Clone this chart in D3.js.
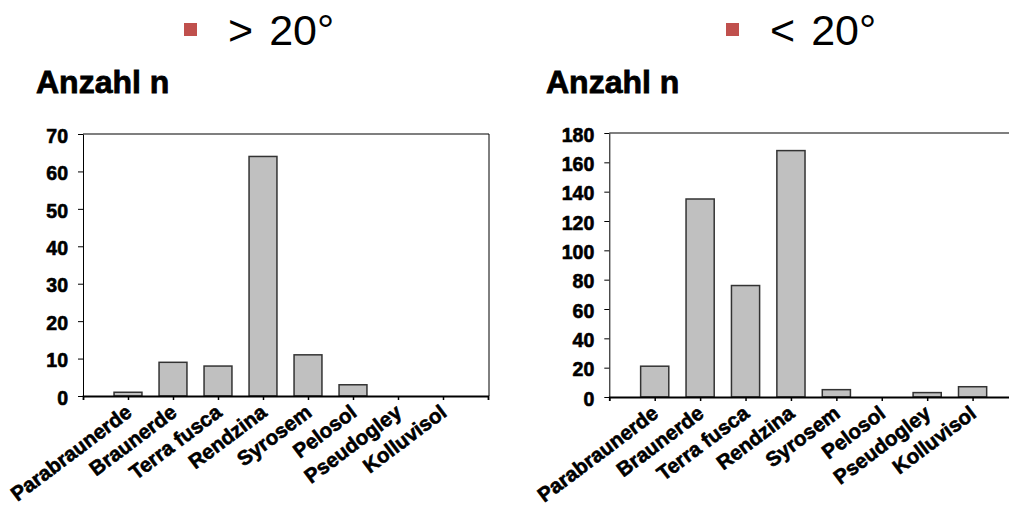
<!DOCTYPE html>
<html>
<head>
<meta charset="utf-8">
<script src="https://cdn.jsdelivr.net/npm/d3@7"></script>
<style>
  html, body { margin: 0; padding: 0; background: #fff; }
  svg { display: block; }
  text { font-family: "Liberation Sans", Arial, sans-serif; }
</style>
</head>
<body>
<svg id="chart" width="1009" height="506"></svg>
<script>
// ---- Data ----
const categories = ["Parabraunerde", "Braunerde", "Terra fusca", "Rendzina", "Syrosem", "Pelosol", "Pseudogley", "Kolluvisol"];
const valuesSteep = [1, 9, 8, 64, 11, 3, 0, 0];       // > 20°
const valuesFlat  = [21, 135, 76, 168, 5, 0, 3, 7];   // < 20°
const ticksSteep = [0, 10, 20, 30, 40, 50, 60, 70];
const ticksFlat  = [0, 20, 40, 60, 80, 100, 120, 140, 160, 180];
const legendLabels = ["> 20°", "< 20°"];
const yTitle = "Anzahl n";

const svg = d3.select("#chart");

function drawPanel(cfg) {
  const g = svg.append("g");
  const x = d3.scalePoint().domain(categories).range([cfg.x0, cfg.x1]).padding(1);
  const y = d3.scaleLinear().domain([0, cfg.max]).range([cfg.yBottom, cfg.yTop]);
  const bw = x.step() * 0.62;

  // legend
  g.append("rect").attr("x", cfg.legX).attr("y", 23).attr("width", 13).attr("height", 13)
    .attr("fill", "#c0504d");
  const parts = cfg.legend.split(" ");
  const lt = g.append("text").attr("x", cfg.legX + 44).attr("y", 45)
    .attr("font-size", 43).attr("fill", "#000");
  lt.append("tspan").text(parts[0]);
  lt.append("tspan").attr("dx", 16).text(parts[1]);

  // title
  g.append("text").attr("x", cfg.titleX).attr("y", 93)
    .attr("font-size", 32).attr("font-weight", "bold")
    .attr("stroke", "#000").attr("stroke-width", 0.8).text(yTitle);

  // frame (top + right)
  g.append("line").attr("x1", cfg.x0).attr("x2", cfg.frameRight)
    .attr("y1", cfg.yTop).attr("y2", cfg.yTop).attr("stroke", "#000").attr("stroke-width", 1.2);
  if (cfg.frameRight < 1009) {
    g.append("line").attr("x1", cfg.frameRight).attr("x2", cfg.frameRight)
      .attr("y1", cfg.yTop).attr("y2", cfg.yBottom).attr("stroke", "#000").attr("stroke-width", 1);
  }

  // bars
  g.selectAll("rect.bar").data(categories.map((c, i) => ({c, v: cfg.values[i]})).filter(d => d.v > 0))
    .enter().append("rect").attr("class", "bar")
    .attr("x", d => x(d.c) - bw / 2)
    .attr("y", d => y(d.v))
    .attr("width", bw)
    .attr("height", d => y(0) - y(d.v))
    .attr("fill", "#c0c0c0")
    .attr("stroke", "#333")
    .attr("stroke-width", 1.5);

  // y axis
  const yAxis = d3.axisLeft(y).tickValues(cfg.ticks).tickSize(5).tickSizeOuter(0).tickPadding(10);
  const ya = g.append("g").attr("transform", `translate(${cfg.x0},0)`).call(yAxis);
  ya.select(".domain").attr("stroke", "#000");
  ya.selectAll(".tick line").attr("stroke", "#000");
  ya.selectAll(".tick text").attr("font-size", 19.5).attr("font-weight", "bold")
    .attr("font-family", "Liberation Sans, Arial, sans-serif").attr("fill", "#000")
    .attr("stroke", "#000").attr("stroke-width", 0.6).attr("dy", "0.42em");

  // x axis
  const xAxis = d3.axisBottom(x).tickSize(4).tickSizeOuter(4).tickFormat("");
  const xa = g.append("g").attr("transform", `translate(0,${cfg.yBottom})`).call(xAxis);
  xa.select(".domain").attr("stroke", "#000").attr("stroke-width", 1.8);
  xa.selectAll(".tick line").attr("stroke", "#000").attr("stroke-width", 1.5);

  // category labels
  g.selectAll("text.cat").data(categories).enter().append("text").attr("class", "cat")
    .attr("transform", d => `translate(${x(d) + 5},${cfg.yBottom + 19}) rotate(-37)`)
    .attr("text-anchor", "end")
    .attr("font-size", 20.5).attr("font-weight", "bold").attr("fill", "#000")
    .attr("stroke", "#000").attr("stroke-width", 0.6)
    .text(d => d);
}

drawPanel({ x0: 83, x1: 488, frameRight: 489, yTop: 134, yBottom: 396, max: 70,
  values: valuesSteep, ticks: ticksSteep, legend: legendLabels[0], legX: 184, titleX: 36 });
drawPanel({ x0: 609.3, x1: 1018, frameRight: 1009, yTop: 133, yBottom: 397, max: 180,
  values: valuesFlat, ticks: ticksFlat, legend: legendLabels[1], legX: 726, titleX: 546 });
</script>
</body>
</html>
